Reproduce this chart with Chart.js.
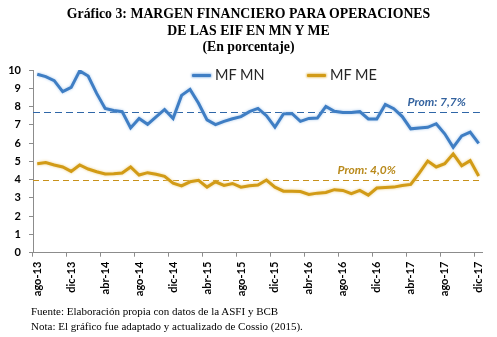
<!DOCTYPE html>
<html>
<head>
<meta charset="utf-8">
<script src="https://cdn.jsdelivr.net/npm/chart.js@4/dist/chart.umd.min.js"></script>
<style>
  body { margin: 0; background: #fff; }
  #wrap { position: relative; width: 497px; height: 337px; overflow: hidden; }
  #chart { position: absolute; left: 0; top: 0; }
  .title {
    position: absolute; left: 0; top: 6px; width: 497px; text-align: center;
    font: bold 13.8px "Liberation Serif", "Times New Roman", serif; line-height: 16.5px; color: #000;
  }
  .legend { position: absolute; top: 66px; font: 14.5px Lato, sans-serif; color: #262626; }
  .legend .sw { position: absolute; top: 8px; height: 3px; border-radius: 1px; }
  .legend span { position: absolute; top: 0; white-space: nowrap; }
  .foot {
    position: absolute; left: 31px; top: 304px;
    font: 11px "Liberation Serif", "Times New Roman", serif; line-height: 15.3px; color: #000;
  }
</style>
</head>
<body>
<div id="wrap">
  <canvas id="chart" width="497" height="337"></canvas>
  <div class="title">Gráfico 3: MARGEN FINANCIERO PARA OPERACIONES<br>DE LAS EIF EN MN Y ME<br>(En porcentaje)</div>
  <div class="legend" id="legend"></div>
  <div class="foot">Fuente: Elaboración propia con datos de la ASFI y BCB<br>Nota: El gráfico fue adaptado y actualizado de Cossio (2015).</div>
</div>
<script>
// months ago-13 .. dic-17
const months = [
  'ago-13','sep-13','oct-13','nov-13','dic-13',
  'ene-14','feb-14','mar-14','abr-14','may-14','jun-14','jul-14','ago-14','sep-14','oct-14','nov-14','dic-14',
  'ene-15','feb-15','mar-15','abr-15','may-15','jun-15','jul-15','ago-15','sep-15','oct-15','nov-15','dic-15',
  'ene-16','feb-16','mar-16','abr-16','may-16','jun-16','jul-16','ago-16','sep-16','oct-16','nov-16','dic-16',
  'ene-17','feb-17','mar-17','abr-17','may-17','jun-17','jul-17','ago-17','sep-17','oct-17','nov-17','dic-17'
];

const mfMN = [
  9.77, 9.64, 9.42, 8.82, 9.05,
  9.95, 9.67, 8.72, 7.90, 7.78, 7.72, 6.83, 7.35, 7.03, 7.43, 7.84, 7.35,
  8.61, 8.94, 8.18, 7.27, 7.01, 7.19, 7.33, 7.45, 7.72, 7.90, 7.50, 6.87,
  7.60, 7.62, 7.19, 7.35, 7.37, 8.01, 7.74, 7.67, 7.67, 7.72, 7.32, 7.32,
  8.11, 7.88, 7.45, 6.78, 6.83, 6.86, 7.06, 6.51, 5.77, 6.39, 6.60, 5.98
];

const mfME = [
  4.87, 4.93, 4.80, 4.69, 4.45,
  4.80, 4.58, 4.43, 4.31, 4.32, 4.36, 4.69, 4.25, 4.38, 4.29, 4.18, 3.81,
  3.66, 3.88, 3.96, 3.59, 3.88, 3.68, 3.79, 3.59, 3.66, 3.70, 3.98, 3.59,
  3.37, 3.37, 3.35, 3.19, 3.26, 3.30, 3.45, 3.41, 3.23, 3.41, 3.15, 3.54,
  3.57, 3.59, 3.68, 3.74, 4.36, 5.02, 4.69, 4.87, 5.41, 4.76, 5.04, 4.20
];

const yTicks = [0, 1, 2, 3, 4, 5, 6, 7, 8, 9, 10];

// promedios del periodo
const promMN = 7.7;
const promME = 4.0;

const BLUE = '#3f7ec4', BLUE_GLOW = '#a9c9ec';
const GOLD = '#d29b16', GOLD_GLOW = '#ecd08a';

// legend drawn in html
const legendItems = [
  { name: 'MF MN', color: BLUE, glow: BLUE_GLOW, x: 192 },
  { name: 'MF ME', color: GOLD, glow: GOLD_GLOW, x: 307 },
];
document.getElementById('legend').innerHTML = legendItems.map(it => `
  <div class="sw" style="left:${it.x}px;width:19px;background:${it.color};box-shadow:0 0 2px 1px ${it.glow};"></div>
  <span style="left:${it.x + 23}px;">${it.name}</span>
`).join('');

// soft halo around the series lines
const glowPlugin = {
  id: 'glow',
  beforeDatasetDraw(chart, args) {
    const ds = chart.data.datasets[args.index];
    const ctx = chart.ctx;
    ctx.save();
    ctx.shadowColor = ds.glow;
    ctx.shadowBlur = 3;
  },
  afterDatasetDraw(chart) {
    chart.ctx.restore();
  }
};

// dashed average lines + labels
const promLines = [
  { value: promMN, color: '#2f67a8', text: 'Prom: 7,7%', textColor: '#34639f', right: 17, dy: -10, dash: [7, 4] },
  { value: promME, color: '#c8911c', text: 'Prom: 4,0%', textColor: '#b98a1c', right: 87, dy: -9, dash: [6, 4] },
];
const promPlugin = {
  id: 'prom',
  beforeDatasetsDraw(chart) {
    const { ctx, chartArea, scales } = chart;
    promLines.forEach(p => {
      const y = Math.round(scales.y.getPixelForValue(p.value)) + 0.5;
      ctx.save();
      ctx.strokeStyle = p.color;
      ctx.lineWidth = 1.2;
      ctx.setLineDash(p.dash);
      ctx.beginPath();
      ctx.moveTo(chartArea.left, y);
      ctx.lineTo(chartArea.right - 3, y);
      ctx.stroke();
      ctx.restore();
    });
  },
  afterDatasetsDraw(chart) {
    const { ctx, chartArea, scales } = chart;
    promLines.forEach(p => {
      const y = scales.y.getPixelForValue(p.value);
      ctx.save();
      ctx.font = 'italic bold 12px Lato, sans-serif';
      ctx.fillStyle = p.textColor;
      ctx.textAlign = 'right';
      ctx.textBaseline = 'middle';
      ctx.fillText(p.text, chartArea.right - p.right, y + p.dy);
      ctx.restore();
    });
  }
};

new Chart(document.getElementById('chart'), {
  type: 'line',
  data: {
    labels: months,
    datasets: [
      { label: 'MF MN', data: mfMN, borderColor: BLUE, glow: BLUE_GLOW, borderWidth: 3, pointRadius: 0, tension: 0 },
      { label: 'MF ME', data: mfME, borderColor: GOLD, glow: GOLD_GLOW, borderWidth: 3, pointRadius: 0, tension: 0 },
    ],
  },
  options: {
    responsive: false,
    animation: false,
    devicePixelRatio: 1,
    layout: { padding: { top: 70, right: 13.5, bottom: 34.3, left: 0 } },
    plugins: { legend: { display: false }, title: { display: false }, tooltip: { enabled: false } },
    scales: {
      x: {
        offset: true,
        grid: {
          offset: true,
          drawOnChartArea: false,
          tickLength: 4,
          color: ctx => (ctx.index !== undefined && ctx.index % 4 === 0) ? '#8c8c8c' : 'rgba(0,0,0,0)',
        },
        border: { display: true, color: '#8c8c8c', width: 1 },
        ticks: {
          autoSkip: false,
          maxRotation: 90,
          minRotation: 90,
          padding: 5,
          color: '#000',
          font: { family: 'Lato, sans-serif', size: 11, weight: 'bold' },
          callback: (val, i) => i % 4 === 0 ? months[i] : '',
        },
        afterFit: s => { s.height = 50; },
      },
      y: {
        min: yTicks[0],
        max: yTicks[yTicks.length - 1],
        afterBuildTicks: s => { s.ticks = yTicks.map(v => ({ value: v })); },
        grid: { drawOnChartArea: false, tickLength: 4, color: '#8c8c8c' },
        border: { display: true, color: '#8c8c8c', width: 1 },
        ticks: {
          padding: 8,
          color: '#000',
          font: { family: 'Lato, sans-serif', size: 11, weight: 'bold' },
        },
        afterFit: s => { s.width = 33; },
      },
    },
  },
  plugins: [glowPlugin, promPlugin],
});
</script>
</body>
</html>
